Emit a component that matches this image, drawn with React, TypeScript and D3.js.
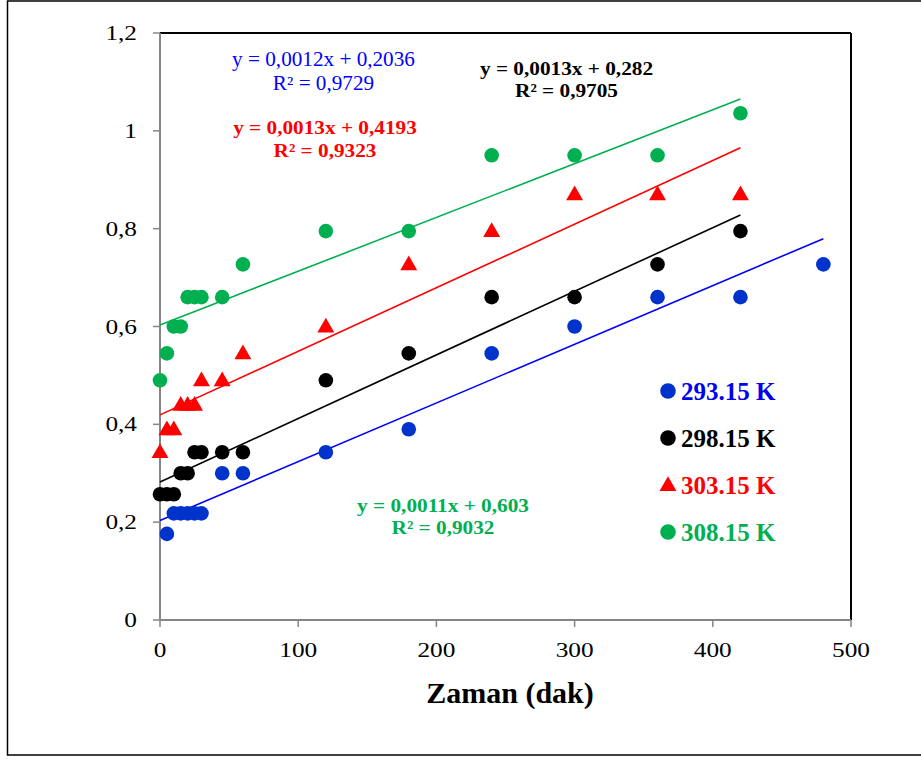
import React from "react";
import * as d3 from "d3";

const xTicks = [0, 100, 200, 300, 400, 500];
const yTicks = [0, 0.2, 0.4, 0.6, 0.8, 1.0, 1.2];

const seriesNames = ["293.15 K", "298.15 K", "303.15 K", "308.15 K"];
const seriesColors = ["#0033CC", "#000000", "#FF0000", "#00B050"];
const lineColors = ["#0000FF", "#000000", "#FF0000", "#00B050"];
const seriesShapes = ["circle", "circle", "triangle", "circle"];

const blueX = [5, 10, 15, 20, 25, 30, 45, 60, 120, 180, 240, 300, 360, 420, 480];
const blueY = [0.176, 0.218, 0.218, 0.218, 0.218, 0.218, 0.3, 0.3, 0.343, 0.39, 0.545, 0.6, 0.66, 0.66, 0.727];

const blackX = [0, 5, 10, 15, 20, 25, 30, 45, 60, 120, 180, 240, 300, 360, 420];
const blackY = [0.257, 0.257, 0.257, 0.3, 0.3, 0.343, 0.343, 0.343, 0.343, 0.49, 0.545, 0.66, 0.66, 0.727, 0.795];

const redX = [0, 5, 10, 15, 20, 25, 30, 45, 60, 120, 180, 240, 300, 360, 420];
const redY = [0.343, 0.39, 0.39, 0.44, 0.44, 0.44, 0.49, 0.49, 0.545, 0.6, 0.727, 0.795, 0.87, 0.87, 0.87];

const greenX = [0, 5, 10, 15, 20, 25, 30, 45, 60, 120, 180, 240, 300, 360, 420];
const greenY = [0.49, 0.545, 0.6, 0.6, 0.66, 0.66, 0.66, 0.66, 0.727, 0.795, 0.795, 0.95, 0.95, 0.95, 1.036];

const slopes = [0.0012, 0.0013, 0.0013, 0.0011];
const intercepts = [0.2036, 0.282, 0.4193, 0.603];
const lineEnds = [480, 420, 420, 420];
const eqTexts = ["y = 0,0012x + 0,2036", "y = 0,0013x + 0,282", "y = 0,0013x + 0,4193", "y = 0,0011x + 0,603"];
const r2Texts = ["R² = 0,9729", "R² = 0,9705", "R² = 0,9323", "R² = 0,9032"];
const eqColors = ["#0000FF", "#000000", "#FF0000", "#00B050"];

function SText(props: {
  x: number; y: number; sx: number; size: number; anchor?: string; weight?: string; fill?: string; children: React.ReactNode;
}) {
  const { x, y, sx, size, anchor = "start", weight = "normal", fill = "#000", children } = props;
  return (
    <text transform={`translate(${x},${y}) scale(${sx},1)`} textAnchor={anchor as any} fontSize={size} fontWeight={weight} fill={fill}>
      {children}
    </text>
  );
}

export default function App() {
  const W = 921, H = 760;
  const left = 160, right = 851, top = 33, bottom = 620;
  const x = d3.scaleLinear().domain([0, 500]).range([left, right]);
  const y = d3.scaleLinear().domain([0, 1.2]).range([bottom, top]);

  const allX = [blueX, blackX, redX, greenX];
  const allY = [blueY, blackY, redY, greenY];
  const serif = "'Liberation Serif', 'Times New Roman', serif";
  const fmt = (v: number) => (v === 0 ? "0" : v === 1 ? "1" : d3.format(".1f")(v).replace(".", ","));

  const tri = d3.symbol().type(d3.symbolTriangle).size(125);

  const marker = (shape: string, cx: number, cy: number, color: string, key: string, r = 7.3) =>
    shape === "triangle" ? (
      <path key={key} d={tri() as string} transform={`translate(${cx},${cy + 1})`} fill={color} />
    ) : (
      <circle key={key} cx={cx} cy={cy} r={r} fill={color} />
    );

  // [centerX, baseline1, baseline2, bold, stretch, size]
  const eqPos = [
    [323.5, 66, 90, false, 1.06, 20],
    [566.5, 75, 97, true, 1.12, 19],
    [325, 134, 157, true, 1.12, 19],
    [443, 512, 534, true, 1.12, 19],
  ] as const;

  return (
    <svg width={W} height={H} style={{ position: "absolute", left: 0, top: 0, background: "#fff" }} fontFamily={serif}>
      <rect x={7.5} y={1} width={940} height={754} fill="#fff" stroke="#000" strokeWidth={1.5} />
      {/* frame */}
      <line x1={left} x2={right} y1={top} y2={top} stroke="#000" strokeWidth={2} />
      <line x1={right} x2={right} y1={top} y2={bottom} stroke="#000" strokeWidth={2} />
      <line x1={left} x2={left} y1={top} y2={bottom} stroke="#868686" strokeWidth={2} />
      <line x1={left} x2={right} y1={bottom} y2={bottom} stroke="#868686" strokeWidth={2} />
      {yTicks.map((t) => (
        <g key={"y" + t}>
          <line x1={left - 7} x2={left} y1={y(t)} y2={y(t)} stroke="#868686" strokeWidth={1.5} />
          <SText x={137} y={y(t) + 7} sx={1.15} size={22} anchor="end">{fmt(t)}</SText>
        </g>
      ))}
      {xTicks.map((t) => (
        <g key={"x" + t}>
          <line x1={x(t)} x2={x(t)} y1={bottom} y2={bottom + 7} stroke="#868686" strokeWidth={1.5} />
          <SText x={x(t)} y={657} sx={1.15} size={22} anchor="middle">{t}</SText>
        </g>
      ))}
      <SText x={510} y={703} sx={1.0} size={30} anchor="middle" weight="bold">Zaman (dak)</SText>
      {/* trend lines */}
      {slopes.map((s, i) => (
        <line key={"tl" + i} x1={x(0)} y1={y(intercepts[i])} x2={x(lineEnds[i])} y2={y(intercepts[i] + s * lineEnds[i])}
          stroke={lineColors[i]} strokeWidth={1.6} />
      ))}
      {/* points */}
      {allX.map((xs, i) => (
        <g key={"s" + i}>
          {xs.map((xv, j) => marker(seriesShapes[i], x(xv), y(allY[i][j]), seriesColors[i], `p${i}-${j}`))}
        </g>
      ))}
      {/* equations */}
      {eqTexts.map((t, i) => (
        <g key={"eq" + i}>
          <SText x={eqPos[i][0]} y={eqPos[i][1]} sx={eqPos[i][4]} size={eqPos[i][5]} anchor="middle"
            weight={eqPos[i][3] ? "bold" : "normal"} fill={eqColors[i]}>{t}</SText>
          <SText x={eqPos[i][0]} y={eqPos[i][2]} sx={eqPos[i][4]} size={eqPos[i][5]} anchor="middle"
            weight={eqPos[i][3] ? "bold" : "normal"} fill={eqColors[i]}>{r2Texts[i]}</SText>
        </g>
      ))}
      {/* legend */}
      {seriesNames.map((n, i) => {
        const ly = 391 + i * 47;
        return (
          <g key={"lg" + i}>
            {marker(seriesShapes[i], 668, ly, seriesColors[i], "lm" + i, 7.8)}
            <SText x={681} y={ly + 8.5} sx={1.0} size={25} weight="bold" fill={i === 0 ? "#0000EE" : seriesColors[i]}>{n}</SText>
          </g>
        );
      })}
    </svg>
  );
}
